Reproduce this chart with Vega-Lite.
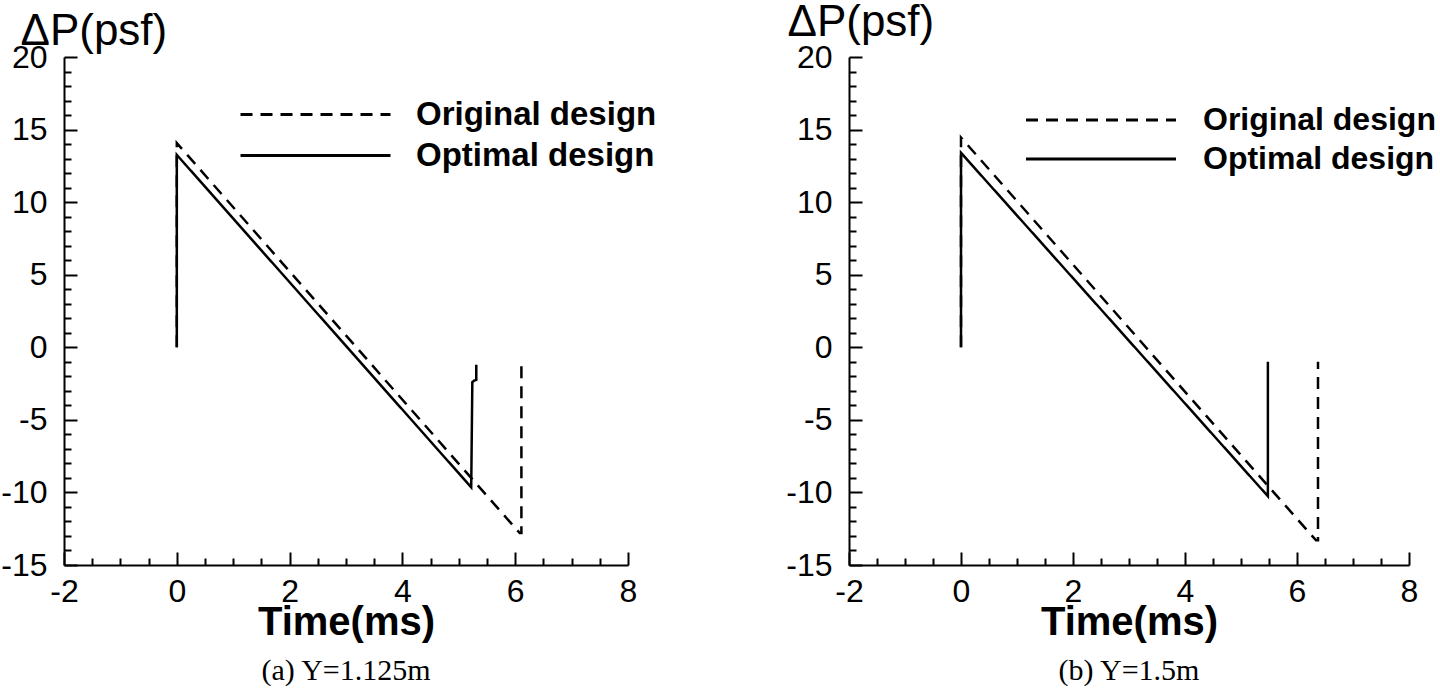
{
  "$schema": "https://vega.github.io/schema/vega-lite/v6.json",
  "padding": {"left": 0, "top": 0, "right": 0, "bottom": 0},
  "background": "white",
  "bounds": "flush",
  "spacing": 221,
  "config": {
    "view": {"stroke": null},
    "font": "Liberation Sans",
    "axis": {
      "domainColor": "black", "domainWidth": 2, "tickColor": "black", "tickWidth": 2,
      "labelColor": "black", "titleColor": "black", "grid": false,
      "labelFont": "Liberation Sans", "labelFontSize": 32, "titleFont": "Liberation Sans",
      "labelOverlap": false, "labelFlush": false
    },
    "legend": {
      "title": null, "orient": "none", "symbolType": "M0,0H30", "symbolSize": 100,
      "symbolStrokeWidth": 3, "symbolStrokeColor": "black", "labelFont": "Liberation Sans",
      "labelFontSize": 32, "labelFontWeight": "bold", "labelColor": "black", "labelLimit": 500,
      "rowPadding": 7, "padding": 0
    },
    "title": {"orient": "bottom", "font": "Liberation Serif", "fontSize": 30, "fontWeight": "normal", "color": "black", "offset": 14}
  },
  "data": {"values": [
    {"panel": "a", "series": "Original design", "i": 0, "t": 0, "p": 0},
    {"panel": "a", "series": "Original design", "i": 1, "t": 0, "p": 14.07},
    {"panel": "a", "series": "Original design", "i": 2, "t": 6.08, "p": -12.8},
    {"panel": "a", "series": "Original design", "i": 3, "t": 6.11, "p": -12.8},
    {"panel": "a", "series": "Original design", "i": 4, "t": 6.11, "p": -0.85},
    {"panel": "a", "series": "Optimal design", "i": 0, "t": 0, "p": 0},
    {"panel": "a", "series": "Optimal design", "i": 1, "t": 0, "p": 13.26},
    {"panel": "a", "series": "Optimal design", "i": 2, "t": 5.22, "p": -9.65},
    {"panel": "a", "series": "Optimal design", "i": 3, "t": 5.24, "p": -2.4},
    {"panel": "a", "series": "Optimal design", "i": 4, "t": 5.27, "p": -2.3},
    {"panel": "a", "series": "Optimal design", "i": 5, "t": 5.31, "p": -2.25},
    {"panel": "a", "series": "Optimal design", "i": 6, "t": 5.31, "p": -1.2},
    {"panel": "b", "series": "Original design", "i": 0, "t": 0, "p": 0},
    {"panel": "b", "series": "Original design", "i": 1, "t": 0, "p": 14.45},
    {"panel": "b", "series": "Original design", "i": 2, "t": 6.34, "p": -13.3},
    {"panel": "b", "series": "Original design", "i": 3, "t": 6.375, "p": -13.3},
    {"panel": "b", "series": "Original design", "i": 4, "t": 6.375, "p": -1.0},
    {"panel": "b", "series": "Optimal design", "i": 0, "t": 0, "p": 0},
    {"panel": "b", "series": "Optimal design", "i": 1, "t": 0, "p": 13.4},
    {"panel": "b", "series": "Optimal design", "i": 2, "t": 5.48, "p": -10.26},
    {"panel": "b", "series": "Optimal design", "i": 3, "t": 5.48, "p": -1.0}
  ]},
  "resolve": {"scale": {"strokeDash": "independent"}},
  "hconcat": [
    {
      "width": 564, "height": 508,
      "title": {"text": "(a) Y=1.125m"},
      "transform": [{"filter": "datum.panel === 'a'"}],
      "mark": {"type": "line", "strokeWidth": 2.5, "color": "black"},
      "encoding": {
        "x": {"field": "t", "type": "quantitative", "scale": {"domain": [-2, 8], "nice": false, "zero": false},
          "axis": {"title": "Time(ms)", "titleFontSize": 40, "titleFontWeight": "bold", "titleY": 37,
            "values": [-2, -1.5, -1, -0.5, 0, 0.5, 1, 1.5, 2, 2.5, 3, 3.5, 4, 4.5, 5, 5.5, 6, 6.5, 7, 7.5, 8],
            "tickSize": {"condition": {"test": "datum.value % 2 === 0", "value": -13}, "value": -7},
            "labelExpr": "datum.value % 2 === 0 ? '' + datum.value : ''", "labelPadding": 24}},
        "y": {"field": "p", "type": "quantitative", "scale": {"domain": [-15, 20], "nice": false, "zero": false},
          "axis": {"title": "ΔP(psf)", "titleAngle": 0, "titleAlign": "left", "titleBaseline": "alphabetic",
            "titleX": -44, "titleY": -13, "titleFontSize": 44, "titleFontWeight": "normal",
            "values": [-15, -14, -13, -12, -11, -10, -9, -8, -7, -6, -5, -4, -3, -2, -1, 0, 1, 2, 3, 4, 5, 6, 7, 8, 9, 10, 11, 12, 13, 14, 15, 16, 17, 18, 19, 20],
            "tickSize": {"condition": {"test": "datum.value % 5 === 0", "value": -13}, "value": -7},
            "labelExpr": "datum.value % 5 === 0 ? '' + datum.value : ''", "labelPadding": 30}},
        "strokeDash": {"field": "series", "type": "nominal",
          "scale": {"domain": ["Original design", "Optimal design"], "range": [[12, 8], [1, 0]]},
          "legend": {"legendX": 160, "legendY": 41, "labelOffset": 159, "labelFontSize": 33}},
        "order": {"field": "i", "type": "quantitative"}
      }
    },
    {
      "width": 560, "height": 508,
      "title": {"text": "(b) Y=1.5m"},
      "transform": [{"filter": "datum.panel === 'b'"}],
      "mark": {"type": "line", "strokeWidth": 2.5, "color": "black"},
      "encoding": {
        "x": {"field": "t", "type": "quantitative", "scale": {"domain": [-2, 8], "nice": false, "zero": false},
          "axis": {"title": "Time(ms)", "titleFontSize": 40, "titleFontWeight": "bold", "titleY": 37,
            "values": [-2, -1.5, -1, -0.5, 0, 0.5, 1, 1.5, 2, 2.5, 3, 3.5, 4, 4.5, 5, 5.5, 6, 6.5, 7, 7.5, 8],
            "tickSize": {"condition": {"test": "datum.value % 2 === 0", "value": -13}, "value": -7},
            "labelExpr": "datum.value % 2 === 0 ? '' + datum.value : ''", "labelPadding": 24}},
        "y": {"field": "p", "type": "quantitative", "scale": {"domain": [-15, 20], "nice": false, "zero": false},
          "axis": {"title": "ΔP(psf)", "titleAngle": 0, "titleAlign": "left", "titleBaseline": "alphabetic",
            "titleX": -62, "titleY": -22, "titleFontSize": 44, "titleFontWeight": "normal",
            "values": [-15, -14, -13, -12, -11, -10, -9, -8, -7, -6, -5, -4, -3, -2, -1, 0, 1, 2, 3, 4, 5, 6, 7, 8, 9, 10, 11, 12, 13, 14, 15, 16, 17, 18, 19, 20],
            "tickSize": {"condition": {"test": "datum.value % 5 === 0", "value": -13}, "value": -7},
            "labelExpr": "datum.value % 5 === 0 ? '' + datum.value : ''", "labelPadding": 30}},
        "strokeDash": {"field": "series", "type": "nominal",
          "scale": {"domain": ["Original design", "Optimal design"], "range": [[12, 8], [1, 0]]},
          "legend": {"legendX": 161, "legendY": 47, "labelOffset": 161}},
        "order": {"field": "i", "type": "quantitative"}
      }
    }
  ]
}
